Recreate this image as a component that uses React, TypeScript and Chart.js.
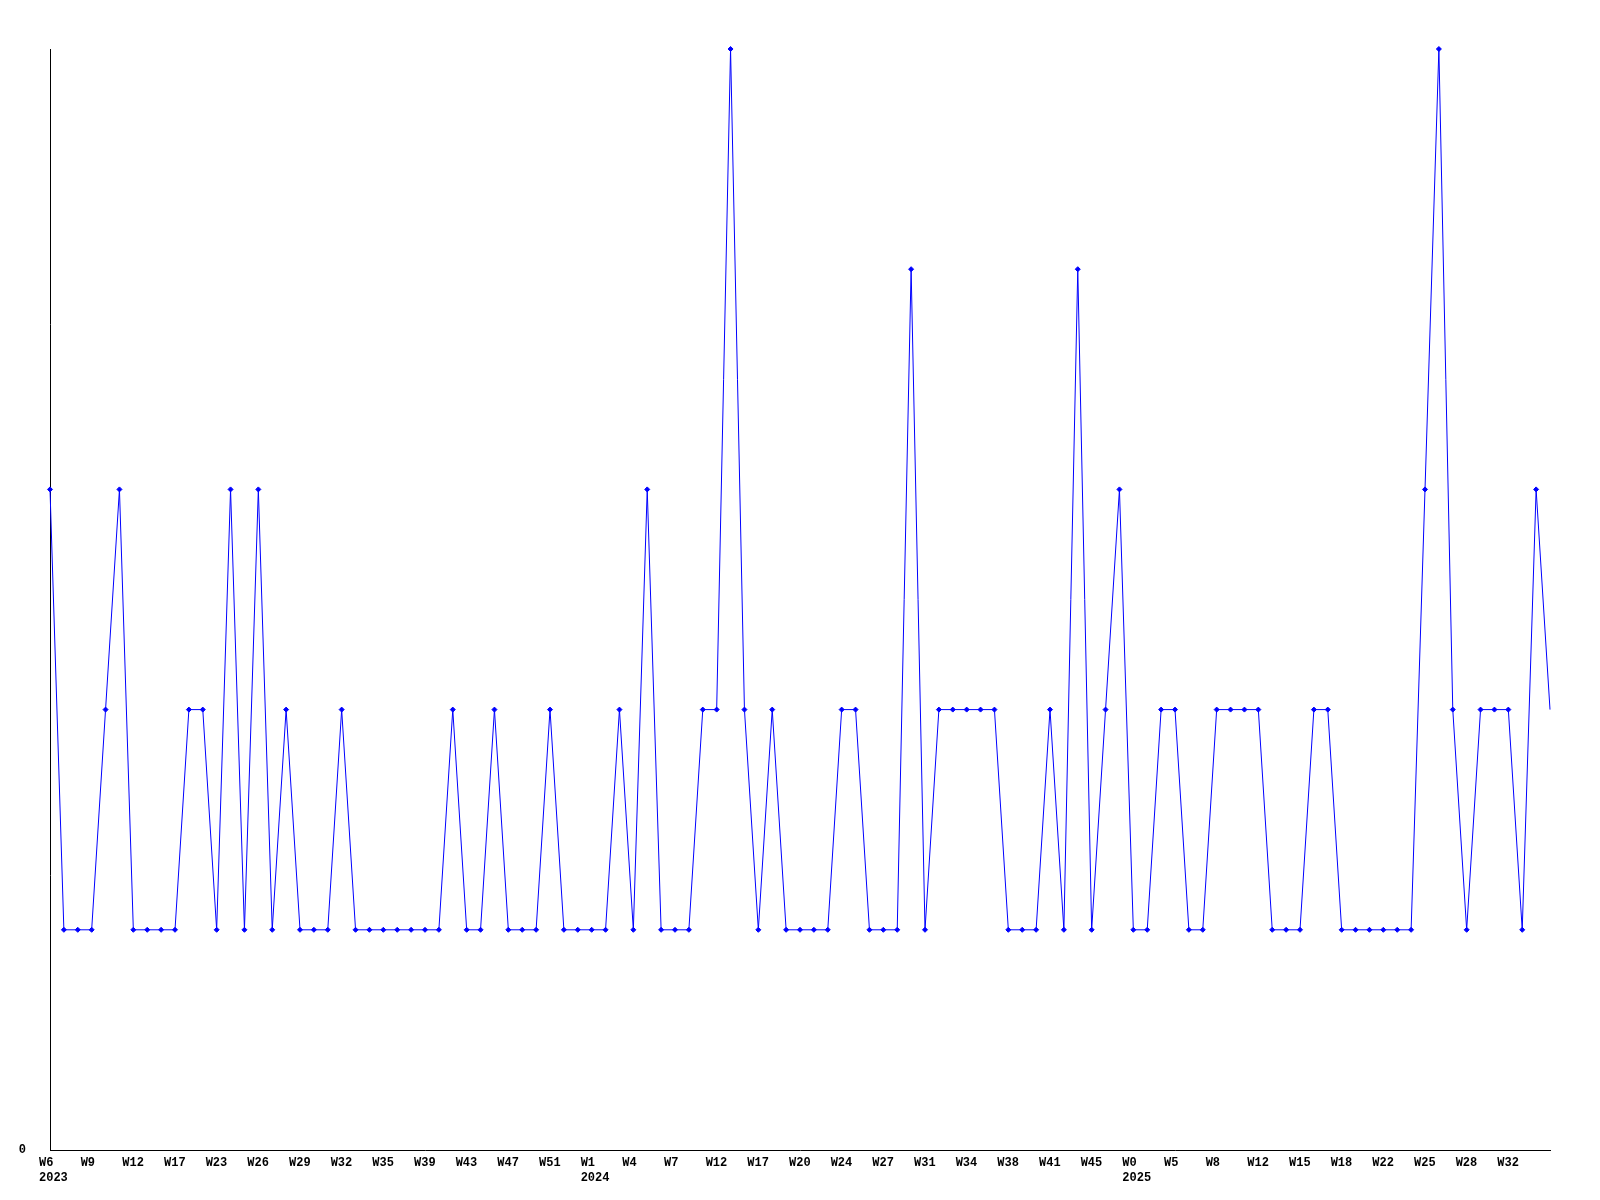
import React, { useEffect, useRef } from "react";
import { Chart, registerables } from "chart.js";

Chart.register(...registerables);

// Week labels (every third one is shown on the axis)
const weekLabels: string[] = [
  "W6", "W7", "W8", "W9", "W10", "W11", "W12", "W14", "W16", "W17",
  "W19", "W21", "W23", "W24", "W25", "W26", "W27", "W28", "W29", "W30",
  "W31", "W32", "W33", "W34", "W35", "W36", "W37", "W39", "W40", "W42",
  "W43", "W44", "W46", "W47", "W48", "W50", "W51", "W52", "W0", "W1",
  "W2", "W3", "W4", "W5", "W6", "W7", "W9", "W10", "W12", "W14",
  "W15", "W17", "W18", "W19", "W20", "W21", "W23", "W24", "W25", "W26",
  "W27", "W29", "W30", "W31", "W32", "W33", "W34", "W36", "W37", "W38",
  "W39", "W40", "W41", "W43", "W44", "W45", "W47", "W49", "W0", "W2",
  "W3", "W5", "W6", "W7", "W8", "W10", "W11", "W12", "W13", "W14",
  "W15", "W16", "W17", "W18", "W20", "W21", "W22", "W23", "W24", "W25",
  "W26", "W27", "W28", "W29", "W31", "W32", "W33", "W34", "W35",
];

// Year shown under the first tick of each year (by point index)
const yearIndices: number[] = [0, 39, 78];
const yearLabels: string[] = ["2023", "2024", "2025"];

// Labelled ticks: every third point, up to W32
const tickStep = 3;
const lastTickIndex = 105;

const values: number[] = [
  3, 1, 1, 1, 2, 3, 1, 1, 1, 1,
  2, 2, 1, 3, 1, 3, 1, 2, 1, 1,
  1, 2, 1, 1, 1, 1, 1, 1, 1, 2,
  1, 1, 2, 1, 1, 1, 2, 1, 1, 1,
  1, 2, 1, 3, 1, 1, 1, 2, 2, 5,
  2, 1, 2, 1, 1, 1, 1, 2, 2, 1,
  1, 1, 4, 1, 2, 2, 2, 2, 2, 1,
  1, 1, 2, 1, 4, 1, 2, 3, 1, 1,
  2, 2, 1, 1, 2, 2, 2, 2, 1, 1,
  1, 2, 2, 1, 1, 1, 1, 1, 1, 3,
  5, 2, 1, 2, 2, 2, 1, 3, 2,
];

const yTickValues: number[] = [0];

export default function App() {
  const ref = useRef<HTMLCanvasElement | null>(null);

  useEffect(() => {
    if (!ref.current) return;
    const font = { family: "'Liberation Mono', 'DejaVu Sans Mono', monospace", size: 12, weight: "bold" as const, lineHeight: 1.3 };
    const n = values.length;
    const chart = new Chart(ref.current, {
      type: "line",
      data: {
        labels: weekLabels,
        datasets: [
          {
            data: values,
            borderColor: "#0000ff",
            backgroundColor: "#0000ff",
            borderWidth: 1,
            tension: 0,
            fill: false,
            clip: false,
            pointStyle: "rectRot",
            pointRadius: values.map((_, i) => (i === n - 1 ? 0 : 2.5)),
            pointBorderWidth: 1,
            pointBackgroundColor: "#0000ff",
            pointBorderColor: "#0000ff",
          },
        ],
      },
      options: {
        animation: false,
        responsive: false,
        maintainAspectRatio: false,
        layout: { padding: { left: 0, top: 49, right: 50, bottom: 0 } },
        plugins: {
          legend: { display: false },
          tooltip: { enabled: false },
          title: { display: false },
        },
        scales: {
          x: {
            type: "category",
            offset: false,
            grid: { display: false, drawTicks: false },
            border: { display: true, color: "#000", width: 1 },
            ticks: {
              autoSkip: false,
              maxRotation: 0,
              minRotation: 0,
              align: "start",
              labelOffset: -11,
              padding: 5,
              color: "#000",
              font,
              callback: (_v: any, i: number) => {
                if (i % tickStep !== 0 || i > lastTickIndex) return "";
                const yi = yearIndices.indexOf(i);
                if (yi >= 0) return [weekLabels[i], yearLabels[yi]];
                return weekLabels[i];
              },
            },
            afterFit: (scale: any) => {
              scale.height = 50;
            },
          },
          y: {
            min: 0,
            max: 5,
            grid: { display: false, drawTicks: false },
            border: { display: true, color: "#000", width: 1 },
            ticks: {
              padding: 24,
              color: "#000",
              font,
            },
            afterBuildTicks: (scale: any) => {
              scale.ticks = yTickValues.map((v) => ({ value: v }));
            },
            afterFit: (scale: any) => {
              scale.width = 50;
            },
          },
        },
      },
    });
    return () => chart.destroy();
  }, []);

  return (
    <div style={{ position: "absolute", left: 0, top: 0, width: 1600, height: 1200, background: "#fff" }}>
      <canvas ref={ref} width={1600} height={1200} style={{ width: 1600, height: 1200, display: "block" }} />
    </div>
  );
}
